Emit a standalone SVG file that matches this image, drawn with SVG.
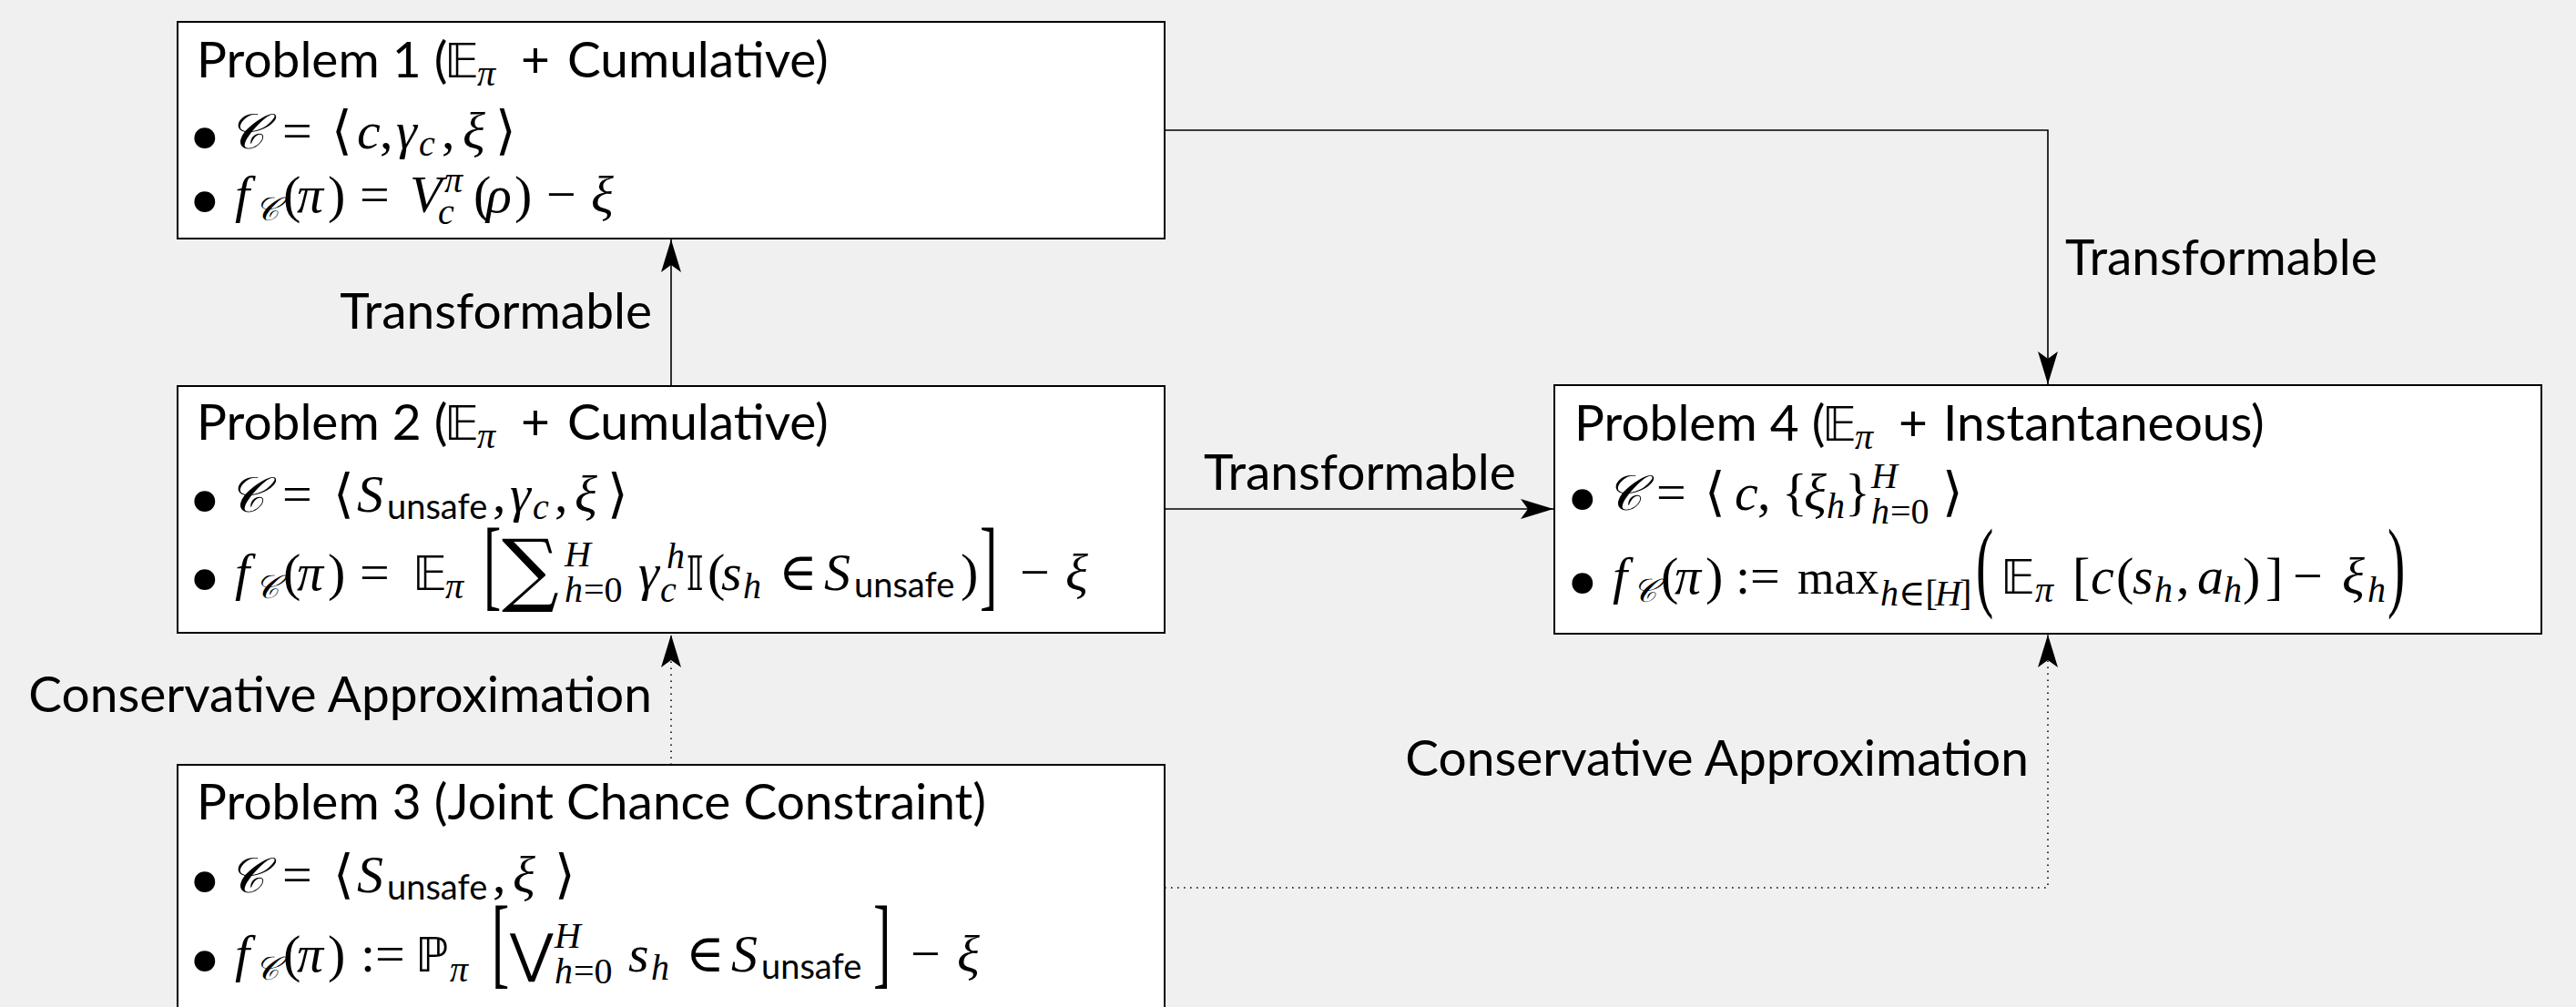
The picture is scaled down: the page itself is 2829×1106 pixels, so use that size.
<svg xmlns="http://www.w3.org/2000/svg" width="2829" height="1106" viewBox="0 0 2829 1106">
<defs>
<style>
.t{font-family:Lato,"Liberation Sans",sans-serif;font-size:55px;fill:#000}
.m{font-family:"Liberation Serif","DejaVu Serif",serif;font-style:italic;font-size:58px}
.r{font-family:"Liberation Serif","DejaVu Serif",serif;font-style:normal;font-size:58px}
.s{font-family:"Liberation Serif","DejaVu Serif",serif;font-style:italic;font-size:40px}
.sr{font-family:"Liberation Serif","DejaVu Serif",serif;font-style:normal;font-size:40px}
.bb{font-family:"DejaVu Sans","DejaVu Serif",serif;font-style:normal;font-size:52px}
.cal{font-family:"DejaVu Serif","DejaVu Sans","Noto Sans",serif;font-style:italic;font-size:54px}
.cals{font-family:"DejaVu Serif","DejaVu Sans","Noto Sans",serif;font-style:italic;font-size:36px}
.sf{font-family:Lato,"Liberation Sans",sans-serif;font-style:normal;font-size:38px}
.sum{font-family:"DejaVu Serif","Liberation Serif",serif;font-style:normal;font-size:88px}
.mx{font-family:"Liberation Serif","DejaVu Serif",serif;font-style:normal;font-size:52px}
.bul{font-family:"Liberation Serif","DejaVu Serif",serif;font-style:normal;font-size:96px}
.box{fill:#fff;stroke:#000;stroke-width:2}
.ln{fill:none;stroke:#000;stroke-width:1.6}
.dot{fill:none;stroke:#000;stroke-width:1.6;stroke-dasharray:1.6 5.4}
</style>
<marker id="ah" markerUnits="userSpaceOnUse" viewBox="-38 -14 40 28" markerWidth="40" markerHeight="28" refX="0" refY="0" orient="auto">
<path d="M0,0 L-36,-11 L-28,0 L-36,11 Z" fill="#000"/>
</marker>
</defs>
<rect x="0" y="0" width="2829" height="1106" fill="#f0f0f0"/>

<g id="connectors">
<path class="ln" d="M737,424 V263" marker-end="url(#ah)"/>
<path class="dot" d="M737,840 V697" marker-end="url(#ah)"/>
<path class="ln" d="M1279,143 H2249 V422" marker-end="url(#ah)"/>
<path class="ln" d="M1279,559 H1706" marker-end="url(#ah)"/>
<path class="dot" d="M1279,975 H2249 V697" marker-end="url(#ah)"/>
<text class="t" x="716" y="361" text-anchor="end">Transformable</text>
<text class="t" x="2268" y="302">Transformable</text>
<text class="t" x="1322" y="538">Transformable</text>
<text class="t" x="716" y="782" text-anchor="end">Conservative Approximation</text>
<text class="t" x="2228" y="852" text-anchor="end">Conservative Approximation</text>
</g>

<g id="problem1">
<rect class="box" x="195" y="24" width="1084" height="238"/>
<text class="t" y="85"><tspan x="216">Problem 1 (</tspan><tspan class="bb" x="488">𝔼</tspan><tspan class="s" x="524" y="94">π</tspan><tspan x="572" y="85">+</tspan><tspan x="623">Cumulative)</tspan></text>
<text class="m" y="163"><tspan class="bul" x="208" y="183">•</tspan><tspan class="cal" x="251" y="163">𝒞</tspan><tspan class="r" x="310">=</tspan><tspan class="r" x="364">⟨</tspan><tspan x="392">c</tspan><tspan class="r" x="417">,</tspan><tspan x="435">γ</tspan><tspan class="s" x="460" y="171">c</tspan><tspan class="r" x="485" y="163">,</tspan><tspan x="508">ξ</tspan><tspan class="r" x="544">⟩</tspan></text>
<text class="m" y="233"><tspan class="bul" x="208" y="253">•</tspan><tspan x="258" y="233">f</tspan><tspan class="cals" x="280" y="242">𝒞</tspan><tspan class="r" x="311" y="233">(</tspan><tspan x="326">π</tspan><tspan class="r" x="360">)</tspan><tspan class="r" x="395">=</tspan><tspan x="450">V</tspan><tspan class="s" x="488" y="211">π</tspan><tspan class="s" x="481" y="246">c</tspan><tspan class="r" x="520" y="233">(</tspan><tspan x="534">ρ</tspan><tspan class="r" x="565">)</tspan><tspan class="r" x="600">−</tspan><tspan x="649">ξ</tspan></text>
</g>

<g id="problem2">
<rect class="box" x="195" y="424" width="1084" height="271"/>
<text class="t" y="483"><tspan x="216">Problem 2 (</tspan><tspan class="bb" x="488">𝔼</tspan><tspan class="s" x="524" y="492">π</tspan><tspan x="572" y="483">+</tspan><tspan x="623">Cumulative)</tspan></text>
<text class="m" y="562"><tspan class="bul" x="208" y="582">•</tspan><tspan class="cal" x="251" y="562">𝒞</tspan><tspan class="r" x="310">=</tspan><tspan class="r" x="366">⟨</tspan><tspan x="392">S</tspan><tspan class="sf" x="425" y="570">unsafe</tspan><tspan class="r" x="541" y="562">,</tspan><tspan x="560">γ</tspan><tspan class="s" x="585" y="570">c</tspan><tspan class="r" x="609" y="562">,</tspan><tspan x="631">ξ</tspan><tspan class="r" x="667">⟩</tspan></text>
<text class="m" y="648"><tspan class="bul" x="208" y="668">•</tspan><tspan x="258" y="648">f</tspan><tspan class="cals" x="280" y="657">𝒞</tspan><tspan class="r" x="311" y="648">(</tspan><tspan x="326">π</tspan><tspan class="r" x="360">)</tspan><tspan class="r" x="395">=</tspan><tspan class="bb" x="453">𝔼</tspan><tspan class="s" x="489" y="657">π</tspan><tspan class="sum" x="551" y="655">∑</tspan><tspan class="s" x="620" y="622">H</tspan><tspan class="s" x="620" y="661">h</tspan><tspan class="sr" x="641" y="661">=0</tspan><tspan x="701" y="648">γ</tspan><tspan class="s" x="732" y="624">h</tspan><tspan class="s" x="725" y="661">c</tspan><tspan class="bb" x="753" y="648">𝕀</tspan><tspan class="r" x="777">(</tspan><tspan x="792">s</tspan><tspan class="s" x="816" y="657">h</tspan><tspan class="r" x="855" y="648">∈</tspan><tspan x="905">S</tspan><tspan class="sf" x="938" y="656">unsafe</tspan><tspan class="r" x="1055" y="648">)</tspan><tspan class="r" x="1120">−</tspan><tspan x="1170">ξ</tspan></text>
<text class="r" transform="translate(531,656) scale(1,1.9)">[</text>
<text class="r" transform="translate(1076,656) scale(1,1.9)">]</text>
</g>

<g id="problem3">
<rect class="box" x="195" y="840" width="1084" height="290"/>
<text class="t" x="216" y="900">Problem 3 (Joint Chance Constraint)</text>
<text class="m" y="980"><tspan class="bul" x="208" y="1000">•</tspan><tspan class="cal" x="251" y="980">𝒞</tspan><tspan class="r" x="310">=</tspan><tspan class="r" x="366">⟨</tspan><tspan x="392">S</tspan><tspan class="sf" x="425" y="988">unsafe</tspan><tspan class="r" x="541" y="980">,</tspan><tspan x="563">ξ</tspan><tspan class="r" x="609">⟩</tspan></text>
<text class="m" y="1067"><tspan class="bul" x="208" y="1087">•</tspan><tspan x="258" y="1067">f</tspan><tspan class="cals" x="280" y="1076">𝒞</tspan><tspan class="r" x="311" y="1067">(</tspan><tspan x="326">π</tspan><tspan class="r" x="360">)</tspan><tspan class="r" x="396">:=</tspan><tspan class="bb" x="456">ℙ</tspan><tspan class="s" x="494" y="1078">π</tspan><tspan class="r" x="560" y="1067">⋁</tspan><tspan class="s" x="609" y="1041">H</tspan><tspan class="s" x="609" y="1080">h</tspan><tspan class="sr" x="630" y="1080">=0</tspan><tspan x="690" y="1067">s</tspan><tspan class="s" x="715" y="1076">h</tspan><tspan class="r" x="753" y="1067">∈</tspan><tspan x="803">S</tspan><tspan class="sf" x="836" y="1075">unsafe</tspan><tspan class="r" x="1000" y="1067">−</tspan><tspan x="1051">ξ</tspan></text>
<text class="r" transform="translate(540,1071) scale(1,1.9)">[</text>
<text class="r" transform="translate(959,1071) scale(1,1.9)">]</text>
</g>

<g id="problem4">
<rect class="box" x="1707" y="423" width="1084" height="273"/>
<text class="t" y="484"><tspan x="1729">Problem 4 (</tspan><tspan class="bb" x="2001">𝔼</tspan><tspan class="s" x="2037" y="493">π</tspan><tspan x="2085" y="484">+</tspan><tspan x="2134">Instantaneous)</tspan></text>
<text class="m" y="560"><tspan class="bul" x="1721" y="580">•</tspan><tspan class="cal" x="1764" y="560">𝒞</tspan><tspan class="r" x="1819">=</tspan><tspan class="r" x="1872">⟨</tspan><tspan x="1905">c</tspan><tspan class="r" x="1930">,</tspan><tspan class="r" x="1957">{</tspan><tspan x="1981">ξ</tspan><tspan class="s" x="2006" y="569">h</tspan><tspan class="r" x="2026" y="560">}</tspan><tspan class="s" x="2055" y="536">H</tspan><tspan class="s" x="2055" y="575">h</tspan><tspan class="sr" x="2076" y="575">=0</tspan><tspan class="r" x="2133" y="560">⟩</tspan></text>
<text class="m" y="652"><tspan class="bul" x="1721" y="672">•</tspan><tspan x="1771" y="652">f</tspan><tspan class="cals" x="1793" y="661">𝒞</tspan><tspan class="r" x="1824" y="652">(</tspan><tspan x="1839">π</tspan><tspan class="r" x="1873">)</tspan><tspan class="r" x="1906">:=</tspan><tspan class="mx" x="1974">max</tspan><tspan class="s" x="2065" y="665">h</tspan><tspan class="sr" x="2085" y="665">∈[</tspan><tspan class="s" x="2125" y="665">H</tspan><tspan class="sr" x="2152" y="665">]</tspan><tspan class="bb" x="2197" y="652">𝔼</tspan><tspan class="s" x="2235" y="661">π</tspan><tspan class="r" x="2276" y="652">[</tspan><tspan x="2296">c</tspan><tspan class="r" x="2324">(</tspan><tspan x="2342">s</tspan><tspan class="s" x="2366" y="661">h</tspan><tspan class="r" x="2390" y="652">,</tspan><tspan x="2413">a</tspan><tspan class="s" x="2442" y="661">h</tspan><tspan class="r" x="2463" y="652">)</tspan><tspan class="r" x="2488">]</tspan><tspan class="r" x="2518">−</tspan><tspan x="2572">ξ</tspan><tspan class="s" x="2600" y="661">h</tspan></text>
<text class="r" transform="translate(2170,657) scale(1,1.9)">(</text>
<text class="r" transform="translate(2622,657) scale(1,1.9)">)</text>
</g>
</svg>
